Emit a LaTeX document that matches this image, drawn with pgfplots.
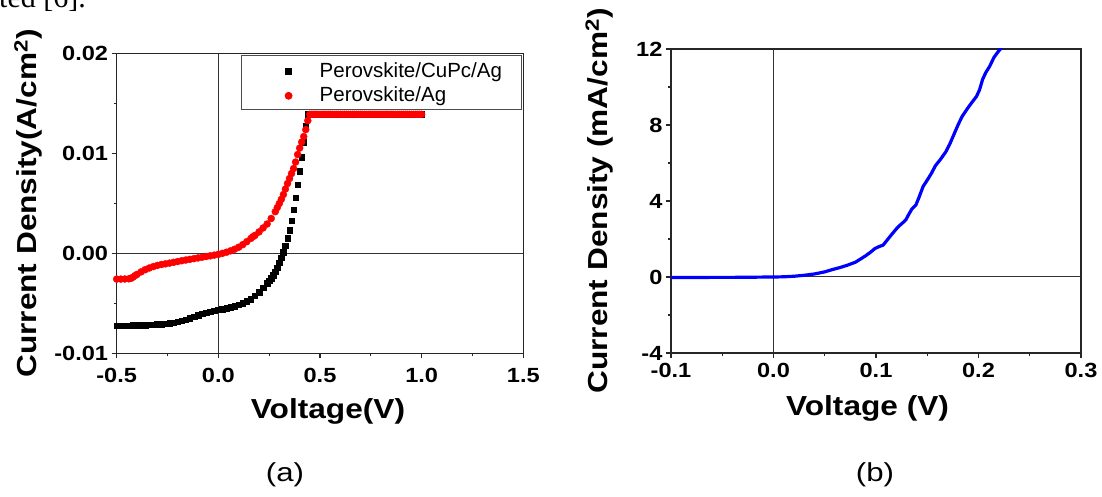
\documentclass[border=0pt]{standalone}
\usepackage{fontspec}
\setmainfont{Liberation Sans}
\newfontfamily\bsans{Liberation Sans}[FakeStretch=1.15]
\newfontfamily\capfont{Liberation Sans}[FakeStretch=1.2]
\newfontfamily\serifont{Liberation Serif}
\usepackage{pgfplots}
\pgfplotsset{compat=1.18}
\pgfplotsset{
  myleg/.style={legend image code/.code={\path (-47pt,0pt) (30.7pt,0pt); \draw[##1] plot coordinates {(0pt,-1.5pt)};}},
  myaxis/.style={
    scale only axis, anchor=south west,
    tick pos=left, tick align=outside,
    major tick length=5pt, minor tick length=3pt,
    axis line style={line width=1.2pt, black!85},
    tick style={line width=1.2pt, black!85},
    tick label style={font=\bsans\bfseries\fontsize{20.5}{21}\selectfont, inner sep=0pt},
    xticklabel style={anchor=north, text height=14.3pt, text depth=0pt},
    yticklabel style={anchor=east, text height=14.3pt, text depth=0pt, xshift=-3.4pt},
    label style={font=\bsans\bfseries\fontsize{27.5}{30}\selectfont, inner sep=0pt},
    scaled ticks=false,
    extra x ticks={0}, extra y ticks={0},
    extra x tick labels={}, extra y tick labels={},
    extra x tick style={grid=major, major tick length=0pt},
    extra y tick style={grid=major, major tick length=0pt},
    major grid style={black!80, line width=1pt},
  }
}
\begin{document}
\begin{tikzpicture}[x=1pt,y=1pt]
% ---------- (a) ----------
\begin{axis}[myaxis,
  at={(116.7pt,143.7pt)}, width=406.6pt, height=299.6pt,
  xmin=-0.5, xmax=1.5, ymin=-0.01, ymax=0.02,
  xtick={-0.5,0,0.5,1,1.5}, xticklabels={-0.5,0.0,0.5,1.0,1.5},
  ytick={-0.01,0,0.01,0.02}, yticklabels={-0.01,0.00,0.01,0.02},
  minor xtick={-0.25,0.25,0.75,1.25}, minor ytick={-0.005,0.005,0.015},
  xticklabel style={yshift=-9.5pt},
  xlabel={Voltage(V)},
  ylabel={Current Density(A/cm\textsuperscript{2})},
  xlabel style={at={(axis description cs:0.5197,-0.216)}, anchor=base},
  ylabel style={at={(axis description cs:-0.1968,0.5)}, anchor=base},
  legend cell align=left,
  legend style={at={(1,1)}, anchor=north east, xshift=-1.5pt, yshift=-1pt,
    draw=black!70, line width=0.8pt, fill=white,
    inner xsep=0pt, inner ysep=4.8pt, row sep=4.4pt, column sep=0pt,
    font=\fontsize{20.5}{24}\selectfont,
    nodes={inner sep=0pt, text height=17.5pt, text depth=2.5pt, text width=201.7pt, align=left}},
]
\addplot[only marks, mark=square*, mark size=2.75pt, black, myleg]
coordinates {
(-0.50,-0.00725)(-0.48,-0.00724)(-0.46,-0.00723)(-0.44,-0.00722)(-0.42,-0.00721)(-0.40,-0.00720)
(-0.38,-0.00718)(-0.36,-0.00717)(-0.34,-0.00715)(-0.32,-0.00713)(-0.30,-0.00711)(-0.28,-0.00708)
(-0.26,-0.00704)(-0.24,-0.00699)(-0.22,-0.00692)(-0.20,-0.00684)(-0.18,-0.00674)(-0.16,-0.00662)
(-0.14,-0.00648)(-0.12,-0.00633)(-0.10,-0.00619)(-0.08,-0.00605)(-0.06,-0.00594)(-0.04,-0.00584)
(-0.02,-0.00574)(0.00,-0.00565)(0.02,-0.00556)(0.04,-0.00546)(0.06,-0.00536)(0.08,-0.00526)
(0.10,-0.00514)(0.12,-0.00499)(0.14,-0.00480)(0.16,-0.00456)(0.18,-0.00425)(0.20,-0.00388)
(0.22,-0.00345)(0.24,-0.00300)(0.25,-0.00275)(0.26,-0.00248)(0.27,-0.00218)(0.28,-0.00183)
(0.29,-0.00142)(0.30,-0.00095)(0.31,-0.00045)(0.32,0.00010)(0.33,0.00075)(0.34,0.00150)
(0.35,0.00235)(0.36,0.00330)(0.37,0.00440)(0.38,0.00560)(0.39,0.00690)(0.40,0.00825)
(0.41,0.00965)(0.42,0.01115)(0.43,0.01280)(0.44,0.01393)(0.46,0.01393)(0.48,0.01393)
(0.50,0.01393)(0.52,0.01393)(0.54,0.01393)(0.56,0.01393)(0.58,0.01393)(0.60,0.01393)
(0.62,0.01393)(0.64,0.01393)(0.66,0.01393)(0.68,0.01393)(0.70,0.01393)(0.72,0.01393)
(0.74,0.01393)(0.76,0.01393)(0.78,0.01393)(0.80,0.01393)(0.82,0.01393)(0.84,0.01393)
(0.86,0.01393)(0.88,0.01393)(0.90,0.01393)(0.92,0.01393)(0.94,0.01393)(0.96,0.01393)
(0.98,0.01393)(1.00,0.01393)
};
\addlegendentry{Perovskite/CuPc/Ag}
\addplot[only marks, mark=*, mark size=3.5pt, red, myleg]
coordinates {
(-0.50,-0.00257)(-0.48,-0.00257)(-0.46,-0.00256)(-0.44,-0.00254)(-0.43,-0.00250)(-0.42,-0.00238)
(-0.41,-0.00222)(-0.40,-0.00210)(-0.38,-0.00185)(-0.36,-0.00163)(-0.34,-0.00146)(-0.32,-0.00132)
(-0.30,-0.00120)(-0.28,-0.00111)(-0.26,-0.00104)(-0.24,-0.00097)(-0.22,-0.00089)(-0.20,-0.00081)
(-0.18,-0.00073)(-0.16,-0.00066)(-0.14,-0.00059)(-0.12,-0.00052)(-0.10,-0.00045)(-0.08,-0.00038)
(-0.06,-0.00031)(-0.04,-0.00024)(-0.02,-0.00017)(0.00,-0.00009)(0.02,0.00001)(0.04,0.00012)
(0.06,0.00026)(0.08,0.00042)(0.10,0.00062)(0.12,0.00088)(0.14,0.00118)(0.16,0.00150)
(0.17,0.00168)(0.18,0.00180)(0.20,0.00215)(0.22,0.00255)(0.24,0.00295)(0.26,0.00350)
(0.28,0.00418)(0.29,0.00460)(0.30,0.00500)(0.31,0.00542)(0.32,0.00590)(0.33,0.00645)
(0.34,0.00700)(0.35,0.00750)(0.36,0.00800)(0.37,0.00850)(0.38,0.00915)(0.39,0.00990)
(0.40,0.01055)(0.41,0.01115)(0.42,0.01170)(0.43,0.01240)(0.44,0.01330)(0.45,0.01393)
(0.46,0.01393)(0.47,0.01393)(0.48,0.01393)(0.49,0.01393)(0.50,0.01393)(0.51,0.01393)
(0.52,0.01393)(0.53,0.01393)(0.54,0.01393)(0.55,0.01393)(0.56,0.01393)(0.57,0.01393)
(0.58,0.01393)(0.59,0.01393)(0.60,0.01393)(0.61,0.01393)(0.62,0.01393)(0.63,0.01393)
(0.64,0.01393)(0.65,0.01393)(0.66,0.01393)(0.67,0.01393)(0.68,0.01393)(0.69,0.01393)
(0.70,0.01393)(0.71,0.01393)(0.72,0.01393)(0.73,0.01393)(0.74,0.01393)(0.75,0.01393)
(0.76,0.01393)(0.77,0.01393)(0.78,0.01393)(0.79,0.01393)(0.80,0.01393)(0.81,0.01393)
(0.82,0.01393)(0.83,0.01393)(0.84,0.01393)(0.85,0.01393)(0.86,0.01393)(0.87,0.01393)
(0.88,0.01393)(0.89,0.01393)(0.90,0.01393)(0.91,0.01393)(0.92,0.01393)(0.93,0.01393)
(0.94,0.01393)(0.95,0.01393)(0.96,0.01393)(0.97,0.01393)(0.98,0.01393)(0.99,0.01393)
(1.00,0.01393)
};
\addlegendentry{Perovskite/Ag}
\end{axis}
% ---------- (b) ----------
\begin{axis}[myaxis,
  at={(671pt,144pt)}, width=410pt, height=304pt,
  xmin=-0.1, xmax=0.3, ymin=-4, ymax=12,
  xtick={-0.1,0,0.1,0.2,0.3}, xticklabels={-0.1,0.0,0.1,0.2,0.3},
  ytick={-4,0,4,8,12}, yticklabels={-4,0,4,8,12},
  minor xtick={-0.05,0.05,0.15,0.25}, minor ytick={-2,2,6,10},
  xticklabel style={yshift=-5.5pt},
  xlabel={Voltage (V)},
  ylabel={Current Density (mA/cm\textsuperscript{2})},
  xlabel style={at={(axis description cs:0.4793,-0.204)}, anchor=base},
  ylabel style={at={(axis description cs:-0.1537,0.5)}, anchor=base},
]
\addplot[blue, line width=3.2pt] coordinates {
(-0.100,-0.03)(-0.080,-0.03)(-0.060,-0.02)(-0.040,-0.02)(-0.020,-0.01)(0.000,0.00)
(0.010,0.01)(0.020,0.04)(0.030,0.09)(0.040,0.16)(0.050,0.27)(0.058,0.40)(0.065,0.50)
(0.072,0.62)(0.080,0.78)(0.085,0.95)(0.090,1.12)(0.095,1.32)(0.099,1.50)(0.103,1.60)
(0.107,1.68)(0.111,1.95)(0.115,2.22)(0.119,2.48)(0.122,2.66)(0.126,2.85)(0.129,3.00)
(0.132,3.30)(0.135,3.58)(0.139,3.80)(0.142,4.20)(0.146,4.77)(0.150,5.10)(0.154,5.45)
(0.158,5.86)(0.163,6.20)(0.168,6.58)(0.172,7.00)(0.176,7.50)(0.180,8.00)(0.184,8.45)
(0.189,8.85)(0.193,9.15)(0.198,9.50)(0.201,9.85)(0.204,10.40)(0.207,10.75)(0.211,11.10)
(0.215,11.55)(0.219,11.85)(0.223,12.10)(0.226,12.50)
};
\end{axis}
\node[anchor=base west, inner sep=0pt] at (-1pt,489pt) {\serifont\fontsize{30}{30}\selectfont ted [6].};
\node[anchor=base, inner sep=0pt] at (285pt,15.3pt) {\capfont\fontsize{26}{28}\selectfont (a)};
\node[anchor=base, inner sep=0pt] at (875pt,15.3pt) {\capfont\fontsize{26}{28}\selectfont (b)};
\pgfresetboundingbox
\path[use as bounding box] (0pt,0pt) rectangle (1102pt,497pt);
\end{tikzpicture}
\end{document}
